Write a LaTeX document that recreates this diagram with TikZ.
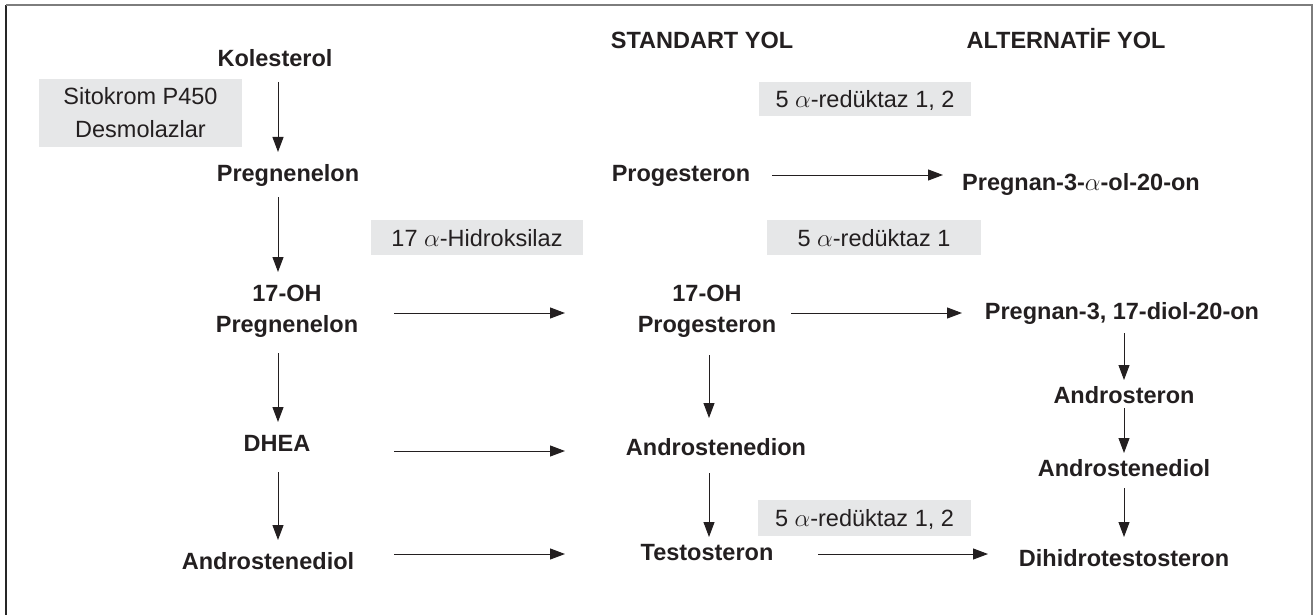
\documentclass[tikz,border=0pt]{standalone}
\usepackage{fontspec}
\setmainfont{Liberation Sans}
\usepackage{tikz}
\usetikzlibrary{arrows.meta, calc}
\definecolor{boxgray}{RGB}{230, 231, 232}
\definecolor{inkdark}{RGB}{35, 31, 32}
\definecolor{framegray}{RGB}{125, 125, 125}

\begin{document}
\begin{tikzpicture}[x=1pt, y=-1pt, >={Triangle[length=15pt, width=11pt]},
  chem/.style={font=\fontsize{23.5}{31}\selectfont\bfseries, text=inkdark,
    inner sep=0pt, text height=17pt, text depth=0pt},
  chemtwo/.style={font=\fontsize{23.5}{31}\selectfont\bfseries, text=inkdark,
    inner sep=0pt, align=center},
  enzyme/.style={fill=boxgray, text=inkdark, font=\fontsize{23.5}{33}\selectfont,
    inner sep=0pt, align=center},
  arr/.style={->, line width=1pt, inkdark}]
  \useasboundingbox (0,0) rectangle (1314,615);
  % frame
  \draw[line width=2pt, black!85] (6,615) -- (6,5);
  \draw[line width=2pt, framegray] (6,5) -- (1312,5) -- (1312,615);

  % headings
  \node[chem] (hstd) at (702,40) {STANDART YOL};
  \node[chem] (halt) at (1066,40) {ALTERNATİF YOL};

  % enzymes
  \node[enzyme, minimum width=203pt, minimum height=68pt] (sito) at (140.5,113)
    {Sitokrom P450\\Desmolazlar};
  \node[enzyme, minimum width=212pt, minimum height=34pt, text height=17pt, text depth=0pt]
    (reda) at (865,99) {5 $\alpha$-redüktaz 1, 2};
  \node[enzyme, minimum width=212pt, minimum height=35pt, text height=17pt, text depth=0pt]
    (hidr) at (477,237.5) {17 $\alpha$-Hidroksilaz};
  \node[enzyme, minimum width=214pt, minimum height=35pt, text height=17pt, text depth=0pt]
    (redb) at (874,237.5) {5 $\alpha$-redüktaz 1};
  \node[enzyme, minimum width=213pt, minimum height=36pt, text height=17pt, text depth=0pt]
    (redc) at (864.5,518) {5 $\alpha$-redüktaz 1, 2};

  % left column
  \node[chem] (kol) at (275,58) {Kolesterol};
  \node[chem] (preg) at (288,173) {Pregnenelon};
  \node[chemtwo] (pn17) at (287,311) {17-OH\\Pregnenelon};
  \node[chem] (dhea) at (277,443) {DHEA};
  \node[chem] (adiolL) at (268,561) {Androstenediol};

  % standard path
  \node[chem] (prog) at (681,173) {Progesteron};
  \node[chemtwo] (pg17) at (707,311) {17-OH\\Progesteron};
  \node[chem] (andn) at (716,447) {Androstenedion};
  \node[chem] (testo) at (707,552) {Testosteron};

  % alternative path
  \node[chem] (p3a) at (1081,182) {Pregnan-3-$\alpha$-ol-20-on};
  \node[chem] (p317) at (1122,311) {Pregnan-3, 17-diol-20-on};
  \node[chem] (ander) at (1124,395) {Androsteron};
  \node[chem] (adiolR) at (1124,468) {Androstenediol};
  \node[chem] (dht) at (1124,558) {Dihidrotestosteron};

  % arrows
  \draw[arr] ($(kol)+(3,24)$) -- ($(preg)+(-10,-21)$);
  \draw[arr] ($(preg)+(-10,24)$) -- ($(pn17)+(-9,-39)$);
  \draw[arr] ($(pn17)+(-9,42)$) -- ($(dhea)+(1,-21)$);
  \draw[arr] ($(dhea)+(1,29)$) -- ($(adiolL)+(10,-21)$);
  \draw[arr] ($(pn17)+(107,2)$) -- ($(pg17)+(-142,2)$);
  \draw[arr] ($(dhea)+(117,8)$) -- ($(andn)+(-151,4)$);
  \draw[arr] ($(adiolL)+(126,-7)$) -- ($(testo)+(-142,2)$);
  \draw[arr] ($(prog)+(91,2)$) -- ($(p3a)+(-138,-7)$);
  \draw[arr] ($(pg17)+(84,2)$) -- ($(p317)+(-160,2)$);
  \draw[arr] ($(testo)+(111,2)$) -- ($(dht)+(-136,-4)$);
  \draw[arr] ($(pg17)+(2,44)$) -- ($(andn)+(-7,-29)$);
  \draw[arr] ($(andn)+(-7,26)$) -- ($(testo)+(2,-15)$);
  \draw[arr] ($(p317)+(2,22)$) -- ($(ander)+(0,-15)$);
  \draw[arr] ($(ander)+(0,13)$) -- ($(adiolR)+(0,-15)$);
  \draw[arr] ($(adiolR)+(0,20)$) -- ($(dht)+(0,-21)$);
\end{tikzpicture}
\end{document}
